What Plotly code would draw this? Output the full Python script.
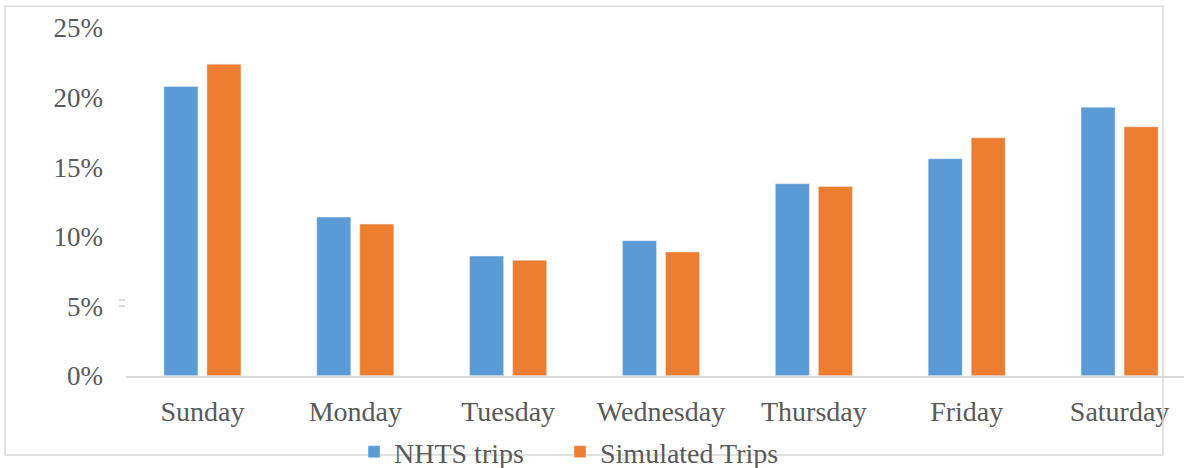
import plotly.graph_objects as go

days = ["Sunday", "Monday", "Tuesday", "Wednesday", "Thursday", "Friday", "Saturday"]
nhts_trips = [0.208, 0.114, 0.086, 0.097, 0.138, 0.156, 0.193]
simulated_trips = [0.224, 0.109, 0.083, 0.089, 0.136, 0.171, 0.179]
y_ticks = [0, 0.05, 0.10, 0.15, 0.20, 0.25]
y_tick_labels = ["0%", "5%", "10%", "15%", "20%", "25%"]

W, H = 1184, 468
L, T, B = 126, 28, 90
PW = W - L
PH = H - T - B

def px_x(p):
    return (p - L) / PW

def px_y(p):
    return (H - B - p) / PH

fig = go.Figure()
fig.add_trace(go.Bar(name="NHTS trips", x=days, y=nhts_trips, marker_color="#5B9BD5", legend="legend"))
fig.add_trace(go.Bar(name="Simulated Trips", x=days, y=simulated_trips, marker_color="#ED7D31", legend="legend2"))

font_family = "Liberation Serif, Times New Roman, serif"

legend_common = dict(
    orientation="h", xref="container", yref="container",
    xanchor="left", y=1 - 452 / H, yanchor="middle",
    font=dict(size=28, family=font_family, color="#595959"),
    bgcolor="rgba(0,0,0,0)", itemclick=False, itemdoubleclick=False,
)

fig.update_layout(
    width=W, height=H,
    margin=dict(l=L, r=0, t=T, b=B, pad=0),
    paper_bgcolor="white", plot_bgcolor="white",
    barmode="group", bargap=0.437, bargroupgap=0.209,
    font=dict(family=font_family, color="#595959", size=28),
    showlegend=True,
    legend=dict(x=354 / W, **legend_common),
    legend2=dict(x=560 / W, **legend_common),
    xaxis=dict(
        range=[-0.5, 6.5 - 12 / 152.8],
        showgrid=False, zeroline=False,
        showline=True, linecolor="#D9D9D9", linewidth=1.5,
        ticks="", ticklabelstandoff=10,
        tickfont=dict(size=28, family=font_family, color="#595959"),
    ),
    yaxis=dict(
        range=[0, 0.25],
        tickvals=y_ticks, ticktext=y_tick_labels,
        showgrid=False, zeroline=False, showline=False,
        ticks="", ticklabelstandoff=22,
        tickfont=dict(size=27, family=font_family, color="#595959"),
    ),
    shapes=[
        dict(type="rect", xref="paper", yref="paper",
             x0=px_x(5), x1=px_x(1163), y0=px_y(458), y1=px_y(6),
             line=dict(color="#D9D9D9", width=1.5), layer="above"),
        dict(type="line", xref="paper", yref="paper",
             x0=px_x(119), x1=px_x(125), y0=px_y(302), y1=px_y(302),
             line=dict(color="#D0D0D0", width=1.5)),
        dict(type="line", xref="paper", yref="paper",
             x0=px_x(119), x1=px_x(125), y0=px_y(308), y1=px_y(308),
             line=dict(color="#D0D0D0", width=1.5)),
    ],
)

fig.write_html(
    "out.html",
    config={"displayModeBar": False},
    post_script="document.body.style.margin='0';document.body.style.overflow='hidden';",
)
